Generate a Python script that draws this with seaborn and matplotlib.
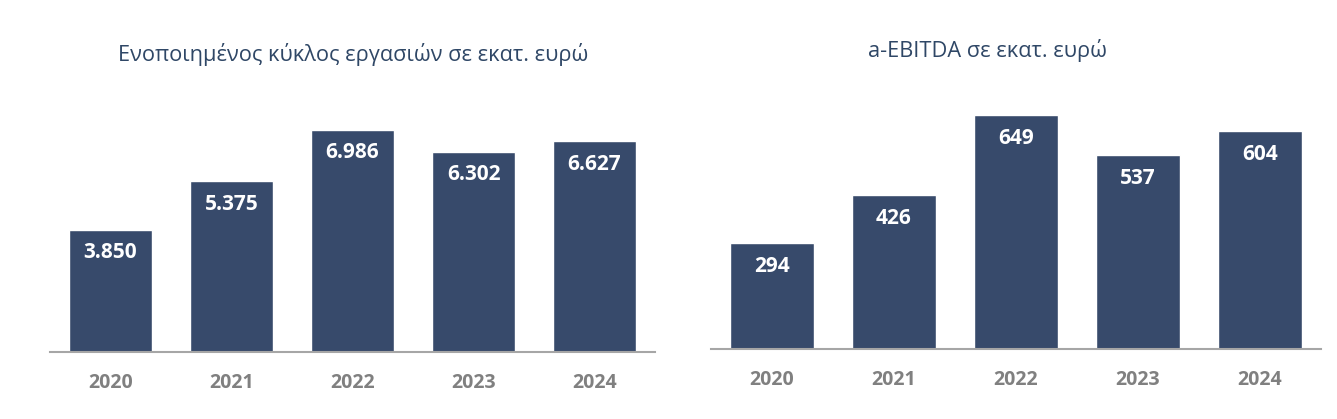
import matplotlib
matplotlib.use("Agg")
import matplotlib.pyplot as plt
import seaborn as sns

# data
years = ["2020", "2021", "2022", "2023", "2024"]
turnover = [3850, 5375, 6986, 6302, 6627]
ebitda = [294, 426, 649, 537, 604]

title_left = "Ενοποιημένος κύκλος εργασιών σε εκατ. ευρώ"
title_right = "a-EBITDA σε εκατ. ευρώ"

bar_color = "#374a6b"
title_color = "#2f4766"
tick_color = "#808080"

sns.set_theme(style="white")
plt.rcParams['font.family'] = ['Open Sans', 'DejaVu Sans']

W, H = 1337, 419
fig = plt.figure(figsize=(W / 100, H / 100), dpi=100)


def px_axes(left, top, right, bottom):
    # pixel box -> figure fraction
    return fig.add_axes([left / W, 1 - bottom / H, (right - left) / W, (bottom - top) / H])


def draw_panel(ax, values, ymax):
    sns.barplot(x=years, y=values, color=bar_color, width=0.69, saturation=1, ax=ax)
    ax.set_xlim(-0.5, len(years) - 0.5)
    ax.set_ylim(0, ymax)
    for p, v in zip(ax.patches, values):
        lbl = f"{v:,}".replace(",", ".")
        ax.annotate(lbl, (p.get_x() + p.get_width() / 2, p.get_height()),
                    xytext=(0, -23 * 0.72), textcoords="offset points",
                    ha="center", va="center", color="white",
                    fontsize=15, fontweight="bold")
    sns.despine(ax=ax, left=True, top=True, right=True)
    ax.spines["bottom"].set_color("#a6a6a6")
    ax.spines["bottom"].set_linewidth(1.5)
    ax.set_yticks([])
    ax.set_xlabel("")
    ax.set_ylabel("")
    ax.tick_params(axis="x", length=0, pad=15, labelsize=14, labelcolor=tick_color)
    for t in ax.get_xticklabels():
        t.set_fontweight("bold")
    ax.patch.set_alpha(0)


ax1 = px_axes(50, 100, 655, 352)
draw_panel(ax1, turnover, 252 / 0.03178)

ax2 = px_axes(711, 100, 1321, 349)
draw_panel(ax2, ebitda, 249 / 0.3605)

fig.text(353 / W, 1 - 55 / H, title_left, ha="center", va="center",
         fontsize=15.7, color=title_color)
fig.text(988 / W, 1 - 50 / H, title_right, ha="center", va="center",
         fontsize=15.7, color=title_color)

fig.savefig("out.png", dpi=100)
